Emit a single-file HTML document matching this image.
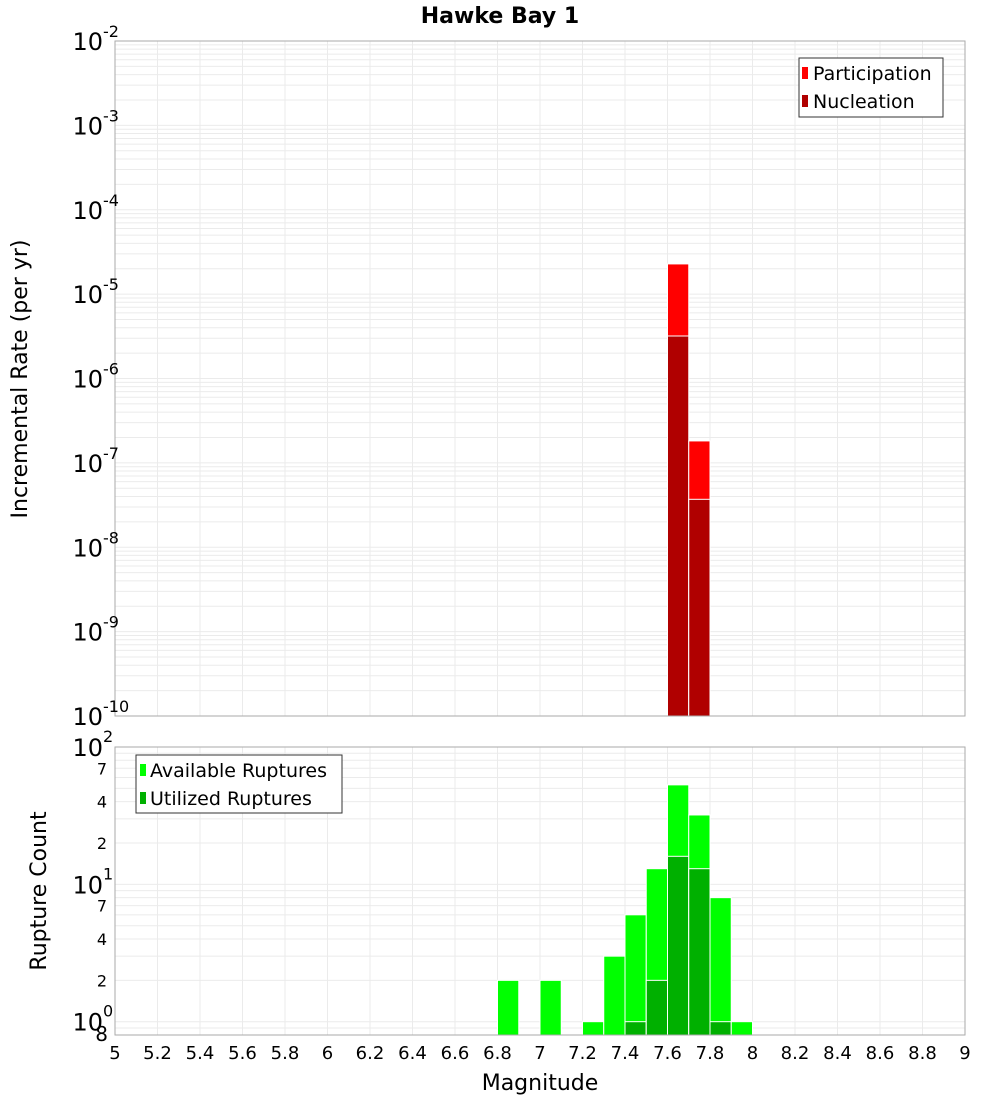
<!DOCTYPE html>
<html><head><meta charset="utf-8"><style>
html,body{margin:0;padding:0;background:#fff;}
svg{display:block;font-family:"DejaVu Sans","Liberation Sans",sans-serif;}
</style></head><body>
<svg id="chart" width="1000" height="1100" viewBox="0 0 1000 1100" xmlns="http://www.w3.org/2000/svg">
<text x="500" y="23" text-anchor="middle" font-size="22" font-weight="bold">Hawke Bay 1</text>
<g id="topPlot"></g>
<g id="botPlot"></g>
<text transform="translate(27,379) rotate(-90)" text-anchor="middle" font-size="22">Incremental Rate (per yr)</text>
<text transform="translate(46,891) rotate(-90)" text-anchor="middle" font-size="22">Rupture Count</text>
<text x="540" y="1090" text-anchor="middle" font-size="22">Magnitude</text>
<g>
<rect x="799" y="58" width="144" height="59" fill="#fff" stroke="#333" stroke-width="1"/>
<rect x="802" y="67" width="6" height="12" fill="#ff0000"/>
<text x="813" y="80" font-size="19">Participation</text>
<rect x="802" y="95" width="6" height="12" fill="#b00000"/>
<text x="813" y="108" font-size="19">Nucleation</text>
</g>
<g>
<rect x="136" y="755" width="206" height="58" fill="#fff" stroke="#333" stroke-width="1"/>
<rect x="140" y="764" width="6" height="12" fill="#00ff00"/>
<text x="150" y="777" font-size="19">Available Ruptures</text>
<rect x="140" y="792" width="6" height="12" fill="#00b000"/>
<text x="150" y="805" font-size="19">Utilized Ruptures</text>
</g>
</svg>
<script>
// data
const binStarts=[6.8,7.0,7.2,7.3,7.4,7.5,7.6,7.7,7.8,7.9];
const available=[2,2,1,3,6,13,53,32,8,1];
const utilized=[0,0,0,0,1,2,16,13,1,0];
const rateBins=[7.6,7.7];
const participation=[2.28e-5,1.82e-7];
const nucleation=[3.19e-6,3.7e-8];
const xTicks=[5,5.2,5.4,5.6,5.8,6,6.2,6.4,6.6,6.8,7,7.2,7.4,7.6,7.8,8,8.2,8.4,8.6,8.8,9];
const topExps=[-2,-3,-4,-5,-6,-7,-8,-9,-10];
const botMinor=[7,4,2,7,4,2];

const NS="http://www.w3.org/2000/svg";
const L=115,R=965;
const xs=m=>L+(m-5)/4*(R-L);
const TT=41,TB=716;
const yTop=v=>TT+(-2-Math.log10(v))/8*(TB-TT);
const BT=747,BB=1035;
const yBot=v=>BT+(2-Math.log10(v))/(2-Math.log10(0.8))*(BB-BT);
function mk(p,tag,a){const e=document.createElementNS(NS,tag);for(const k in a)e.setAttribute(k,a[k]);p.appendChild(e);return e;}
const gTop=document.getElementById('topPlot'),gBot=document.getElementById('botPlot');

mk(gTop,'rect',{x:L,y:TT,width:R-L,height:TB-TT,fill:'#fff'});
for(let d=-10;d<-2;d++){for(let k=1;k<10;k++){const y=yTop(k*Math.pow(10,d));const g=mk(gTop,'line',{x1:L,x2:R,y1:y,y2:y,stroke:'#ebebeb','stroke-width':1});

}}
xTicks.forEach(t=>{const x=xs(t);mk(gTop,'line',{x1:x,x2:x,y1:TT,y2:TB,stroke:'#ebebeb'});mk(gBot,'line',{x1:x,x2:x,y1:BT,y2:BB,stroke:'#ebebeb'});});
for(let d=-1;d<2;d++){for(let k=1;k<10;k++){const v=k*Math.pow(10,d);if(v<0.8||v>100)continue;const y=yBot(v);mk(gBot,'line',{x1:L,x2:R,y1:y,y2:y,stroke:'#ebebeb'});}}

rateBins.forEach((b,i)=>{
 const x=xs(b),w=xs(b+0.1)-x;
 const p=mk(gTop,'rect',{x:x,y:yTop(participation[i]),width:w,height:TB-yTop(participation[i]),fill:'#ff0000',stroke:'#fff','stroke-width':1});
 
 
 const n=mk(gTop,'rect',{x:x,y:yTop(nucleation[i]),width:w,height:TB-yTop(nucleation[i]),fill:'#b00000',stroke:'#fff','stroke-width':1});
 
 
});
binStarts.forEach((b,i)=>{
 const x=xs(b),w=xs(b+0.1)-x;
 if(available[i]>0){const a=mk(gBot,'rect',{x:x,y:yBot(available[i]),width:w,height:BB-yBot(available[i]),fill:'#00ff00',stroke:'#fff','stroke-width':1});
 
 }
 if(utilized[i]>0){const u=mk(gBot,'rect',{x:x,y:yBot(utilized[i]),width:w,height:BB-yBot(utilized[i]),fill:'#00b000',stroke:'#fff','stroke-width':1});
 
 }
});
mk(gTop,'rect',{x:L,y:TT,width:R-L,height:TB-TT,fill:'none',stroke:'#aaa'});
mk(gBot,'rect',{x:L,y:BT,width:R-L,height:BB-BT,fill:'none',stroke:'#aaa'});

topExps.forEach(e=>{
 const y=yTop(Math.pow(10,e));
 const t=mk(gTop,'text',{x:103,y:y+9,'text-anchor':'end','font-size':24});t.textContent='10';
 
 
 const s=mk(gTop,'text',{x:103,y:y-4,'font-size':16});s.textContent=String(e);
});
[[100,'2'],[10,'1'],[1,'0']].forEach(([v,e])=>{
 const y=yBot(v);
 const t=mk(gBot,'text',{x:103,y:y+9,'text-anchor':'end','font-size':24});t.textContent='10';
 
 
 const s=mk(gBot,'text',{x:103,y:y-5,'font-size':16});s.textContent=e;
});
const minorVals=[70,40,20,7,4,2];
minorVals.forEach((v,i)=>{const t=mk(gBot,'text',{x:107,y:yBot(v)+6,'text-anchor':'end','font-size':16});t.textContent=String(botMinor[i]);});
{const t=mk(gBot,'text',{x:108,y:1041,'text-anchor':'end','font-size':20});t.textContent='8';}
xTicks.forEach(v=>{const t=mk(gBot,'text',{x:xs(v),y:1059,'text-anchor':'middle','font-size':18});t.textContent=String(v);
 
 });
</script>
</body></html>
